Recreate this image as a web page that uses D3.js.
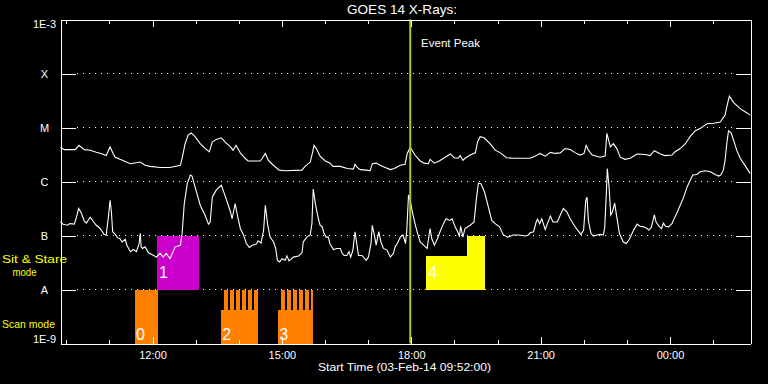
<!DOCTYPE html>
<html><head><meta charset="utf-8">
<script src="https://cdn.jsdelivr.net/npm/d3@7"></script>
<style>html,body{margin:0;padding:0;background:#000;} svg{display:block;}</style>
</head><body>
<svg id="chart" width="768" height="384"></svg>
<script>
// ---------------- data ----------------
const startTime = "2014-02-03T09:52:00Z";
const spanHours = 16;
const classLevels = [1e-9, 1e-8, 1e-7, 1e-6, 1e-5, 1e-4, 1e-3];
const classLabels = ["1E-9", "A", "B", "C", "M", "X", "1E-3"];
const gridLevels = [1e-8, 1e-7, 1e-6, 1e-5, 1e-4];

// long channel (1-8 A), hours since start / log10 flux (W m^-2)
const longTimes = [
 0.00,0.09,0.34,0.43,0.55,0.69,0.83,0.97,1.06,1.15,
 1.22,1.27,1.38,1.62,1.85,1.96,2.08,2.31,2.54,2.78,
 2.82,2.89,2.96,3.03,3.12,3.24,3.36,3.45,3.52,3.61,
 3.73,3.82,3.94,4.00,4.07,4.17,4.28,4.35,4.63,4.68,
 4.75,4.82,4.91,5.07,5.21,5.60,5.67,5.79,5.84,5.88,
 5.93,6.02,6.14,6.25,6.32,6.49,6.65,6.79,6.83,6.88,
 6.95,7.09,7.18,7.23,7.32,7.41,7.53,7.65,7.74,7.88,
 7.99,8.04,8.11,8.22,8.34,8.43,8.53,8.57,8.67,8.80,
 8.92,9.04,9.13,9.22,9.27,9.33,9.38,9.50,9.62,9.67,
 9.73,9.82,9.96,10.08,10.20,10.34,10.50,10.89,11.01,11.12,
 11.24,11.36,11.47,11.59,11.70,11.82,11.94,12.05,12.14,12.19,
 12.24,12.33,12.51,12.63,12.67,12.75,12.82,12.90,12.98,13.09,
 13.21,13.37,13.56,13.67,13.77,13.91,14.02,14.18,14.25,14.37,
 14.49,14.60,14.72,14.83,14.99,15.14,15.30,15.41,15.45,15.51,
 15.61,15.76,15.92,15.99];
const longLogFlux = [
 -5.37,-5.41,-5.41,-5.33,-5.41,-5.42,-5.46,-5.49,-5.52,-5.36,
 -5.48,-5.55,-5.59,-5.67,-5.64,-5.70,-5.72,-5.74,-5.74,-5.70,
 -5.57,-5.30,-5.14,-5.10,-5.17,-5.30,-5.39,-5.45,-5.27,-5.22,
 -5.19,-5.27,-5.36,-5.42,-5.33,-5.47,-5.57,-5.62,-5.62,-5.57,
 -5.48,-5.61,-5.68,-5.79,-5.80,-5.79,-5.72,-5.64,-5.48,-5.33,
 -5.39,-5.53,-5.62,-5.66,-5.72,-5.72,-5.76,-5.77,-5.68,-5.74,
 -5.78,-5.79,-5.80,-5.67,-5.66,-5.70,-5.74,-5.78,-5.76,-5.70,
 -5.68,-5.48,-5.37,-5.51,-5.62,-5.66,-5.67,-5.59,-5.66,-5.61,
 -5.55,-5.49,-5.56,-5.57,-5.52,-5.61,-5.57,-5.51,-5.47,-5.27,
 -5.17,-5.19,-5.30,-5.42,-5.47,-5.56,-5.57,-5.57,-5.53,-5.48,
 -5.53,-5.46,-5.48,-5.47,-5.39,-5.41,-5.47,-5.51,-5.48,-5.33,
 -5.42,-5.51,-5.55,-5.53,-5.11,-5.36,-5.30,-5.39,-5.55,-5.59,
 -5.57,-5.49,-5.50,-5.52,-5.43,-5.49,-5.52,-5.51,-5.45,-5.39,
 -5.30,-5.17,-5.06,-5.02,-4.93,-4.92,-4.90,-4.77,-4.62,-4.42,
 -4.54,-4.65,-4.73,-4.77];

// short channel (0.5-4 A)
const shortTimes = [
 0.00,0.06,0.16,0.22,0.32,0.36,0.42,0.48,0.55,0.60,
 0.69,0.77,0.83,0.92,0.97,1.01,1.06,1.11,1.15,1.18,
 1.21,1.27,1.32,1.38,1.43,1.50,1.54,1.62,1.69,1.76,
 1.82,1.85,1.87,1.90,1.96,2.04,2.16,2.22,2.31,2.38,
 2.45,2.54,2.66,2.78,2.82,2.87,2.94,3.01,3.05,3.12,
 3.24,3.36,3.43,3.47,3.52,3.61,3.73,3.82,3.94,3.98,
 4.05,4.10,4.17,4.24,4.31,4.38,4.45,4.54,4.58,4.65,
 4.71,4.75,4.80,4.86,4.94,4.99,5.03,5.08,5.14,5.21,
 5.25,5.30,5.40,5.52,5.60,5.63,5.71,5.79,5.83,5.86,
 5.91,5.98,6.02,6.07,6.11,6.16,6.21,6.25,6.33,6.41,
 6.49,6.53,6.58,6.64,6.69,6.73,6.78,6.83,6.87,6.91,
 6.99,7.09,7.14,7.20,7.23,7.27,7.32,7.38,7.43,7.49,
 7.57,7.65,7.72,7.76,7.81,7.88,7.94,7.97,8.00,8.03,
 8.07,8.11,8.15,8.22,8.28,8.34,8.42,8.50,8.57,8.61,
 8.67,8.74,8.80,8.88,8.94,9.02,9.08,9.15,9.21,9.25,
 9.28,9.33,9.38,9.50,9.59,9.64,9.69,9.75,9.83,9.92,
 10.00,10.08,10.18,10.27,10.37,10.50,10.62,10.78,10.85,10.89,
 10.97,11.03,11.06,11.11,11.16,11.24,11.29,11.36,11.42,11.52,
 11.59,11.66,11.74,11.82,11.91,11.99,12.07,12.13,12.18,12.21,
 12.24,12.30,12.36,12.44,12.51,12.59,12.62,12.65,12.68,12.72,
 12.76,12.80,12.85,12.90,12.96,13.05,13.12,13.19,13.29,13.37,
 13.44,13.52,13.60,13.64,13.70,13.74,13.77,13.81,13.89,13.94,
 13.98,14.03,14.10,14.18,14.21,14.29,14.37,14.45,14.53,14.60,
 14.66,14.76,14.83,14.95,15.07,15.18,15.26,15.31,15.37,15.41,
 15.45,15.49,15.55,15.61,15.68,15.76,15.88,15.99];
const shortLogFlux = [
 -6.75,-6.79,-6.81,-6.78,-6.79,-6.69,-6.50,-6.58,-6.73,-6.77,
 -6.66,-6.75,-6.81,-6.87,-6.93,-6.98,-6.99,-6.66,-6.35,-6.56,
 -6.93,-6.98,-7.04,-7.06,-7.12,-7.07,-7.18,-7.30,-7.26,-7.30,
 -7.16,-6.96,-7.21,-7.24,-7.21,-7.32,-7.37,-7.40,-7.33,-7.40,
 -7.33,-7.43,-7.21,-7.18,-6.96,-6.41,-6.04,-5.88,-5.90,-6.10,
 -6.44,-6.64,-6.79,-6.75,-6.29,-6.16,-6.07,-6.27,-6.56,-6.69,
 -6.41,-6.62,-6.87,-6.98,-7.15,-7.22,-7.18,-7.16,-7.10,-7.14,
 -6.90,-6.44,-6.78,-7.03,-7.12,-7.24,-7.46,-7.49,-7.43,-7.46,
 -7.38,-7.47,-7.40,-7.38,-7.32,-7.12,-7.03,-6.99,-6.78,-6.14,
 -6.41,-6.69,-6.81,-6.84,-6.96,-7.03,-7.03,-7.16,-7.26,-7.24,
 -7.24,-7.33,-7.37,-7.37,-7.30,-7.40,-7.27,-6.93,-7.15,-7.37,
 -7.37,-7.46,-7.40,-7.15,-6.81,-6.96,-7.18,-6.93,-7.12,-7.24,
 -7.27,-7.40,-7.33,-7.21,-7.15,-7.03,-6.99,-7.06,-7.15,-6.90,
 -6.25,-6.35,-6.53,-6.78,-6.96,-7.12,-7.18,-7.24,-6.87,-7.06,
 -7.18,-7.06,-6.93,-6.78,-6.69,-6.72,-6.69,-6.84,-6.93,-7.01,
 -6.83,-7.03,-6.87,-6.81,-6.75,-6.35,-6.03,-6.04,-6.19,-6.47,
 -6.72,-6.78,-6.84,-6.99,-7.03,-6.99,-6.99,-7.01,-6.99,-6.95,
 -6.93,-6.75,-6.70,-6.78,-6.69,-6.89,-6.78,-6.64,-6.75,-6.75,
 -6.62,-6.50,-6.56,-6.69,-6.81,-6.90,-6.98,-6.90,-6.35,-6.29,
 -6.72,-6.96,-7.01,-6.99,-6.98,-6.99,-6.84,-6.35,-5.76,-6.10,
 -6.62,-6.56,-6.40,-6.66,-6.96,-7.12,-7.15,-7.07,-6.90,-6.79,
 -6.83,-6.84,-6.87,-6.90,-6.85,-6.72,-6.62,-6.75,-6.84,-6.87,
 -6.77,-6.83,-6.84,-6.78,-6.72,-6.59,-6.44,-6.29,-6.10,-5.98,
 -5.88,-5.87,-5.82,-5.80,-5.82,-5.87,-5.90,-5.88,-5.79,-5.61,
 -5.30,-5.06,-5.10,-5.24,-5.42,-5.57,-5.71,-5.85];

// IRIS observing blocks (hours since start)
const scanIds    = ["0", "2", "3"];
const scanStarts = [1.73, 3.73, 5.05];
const scanEnds   = [2.27, 4.58, 5.86];
const scanTops   = [1e-8, 4.2e-9, 4.2e-9];
const rasterStarts = [3.80, 3.93, 4.07, 4.21, 4.35, 4.49, 5.12, 5.26, 5.40, 5.54, 5.68, 5.82];
const rasterEnds   = [3.885, 4.015, 4.155, 4.295, 4.435, 4.58, 5.205, 5.345, 5.485, 5.625, 5.765, 5.86];
const rasterTop = 1e-8;

const sitIds    = ["1", "4", "4"];
const sitStarts = [2.24, 8.48, 9.43];
const sitEnds   = [3.22, 9.85, 9.85];
const sitBottoms = [1e-8, 1e-8, 1e-8];
const sitTops   = [1e-7, 4.2e-8, 1e-7];

const eventPeakHours = 8.11;

// ---------------- drawing ----------------
const t0 = new Date(startTime);
const toDate = h => new Date(t0.getTime() + h * 3600e3);

const svg = d3.select("#chart");
svg.append("rect").attr("width", 768).attr("height", 384).attr("fill", "#000");

const x = d3.scaleUtc().domain([t0, toDate(spanHours)]).range([60.5, 750.5]);
const y = d3.scaleLog().domain([1e-9, 1e-3]).range([343.5, 19.5]);

const FONT = "'Liberation Sans', Arial, sans-serif";
const colors = { scan: "#ff8000", "1": "#cc00cc", "4": "#ffff00" };

// dotted grid
svg.append("g").selectAll("line").data(gridLevels).join("line")
  .attr("x1", 76.5).attr("x2", 735)
  .attr("y1", d => Math.round(y(d) - 0.5) + 0.5).attr("y2", d => Math.round(y(d) - 0.5) + 0.5)
  .attr("stroke", "#fff").attr("stroke-width", 1).attr("stroke-dasharray", "1,5")
  .attr("shape-rendering", "crispEdges");

// scan blocks
const blocks = svg.append("g").attr("shape-rendering", "crispEdges");
scanIds.forEach((id, i) => {
  blocks.append("rect")
    .attr("x", x(toDate(scanStarts[i]))).attr("width", x(toDate(scanEnds[i])) - x(toDate(scanStarts[i])))
    .attr("y", y(scanTops[i])).attr("height", y(1e-9) - y(scanTops[i]))
    .attr("fill", colors.scan);
});
rasterStarts.forEach((s, i) => {
  blocks.append("rect")
    .attr("x", x(toDate(s))).attr("width", x(toDate(rasterEnds[i])) - x(toDate(s)))
    .attr("y", y(rasterTop)).attr("height", y(4.2e-9) - y(rasterTop) + 1)
    .attr("fill", colors.scan);
});
sitIds.forEach((id, i) => {
  blocks.append("rect")
    .attr("x", x(toDate(sitStarts[i]))).attr("width", x(toDate(sitEnds[i])) - x(toDate(sitStarts[i])))
    .attr("y", y(sitTops[i])).attr("height", y(sitBottoms[i]) - y(sitTops[i]))
    .attr("fill", colors[id]);
});

// block labels
const labels = svg.append("g").attr("font-family", FONT).attr("font-size", 16).attr("fill", "#fff");
scanIds.forEach((id, i) => {
  labels.append("text").attr("x", x(toDate(scanStarts[i])) + 1).attr("y", y(1e-9) - 4).text(id);
});
const seen = new Set();
sitIds.forEach((id, i) => {
  if (seen.has(id)) return; seen.add(id);
  labels.append("text").attr("x", x(toDate(sitStarts[i])) + 2).attr("y", y(1e-8) - 12).text(id);
});

// curves
const line = d3.line().x(d => x(toDate(d[0]))).y(d => y(Math.pow(10, d[1])));
svg.append("path").datum(d3.zip(longTimes, longLogFlux)).attr("d", line)
  .attr("fill", "none").attr("stroke", "#fff").attr("stroke-width", 1.1);
svg.append("path").datum(d3.zip(shortTimes, shortLogFlux)).attr("d", line)
  .attr("fill", "none").attr("stroke", "#fff").attr("stroke-width", 1.1);

// event peak
const xp = x(toDate(eventPeakHours));
svg.append("line").attr("x1", xp).attr("x2", xp).attr("y1", 19.5).attr("y2", 343.5)
  .attr("stroke", "#a4d012").attr("stroke-width", 2);
svg.append("text").attr("x", 421).attr("y", 47).attr("fill", "#fff")
  .attr("font-family", FONT).attr("font-size", 11).attr("textLength", 59)
  .attr("lengthAdjust", "spacingAndGlyphs").text("Event Peak");

// axes
function styleAxis(g) {
  g.selectAll("path,line").attr("stroke", "#fff").attr("shape-rendering", "crispEdges");
  g.selectAll("text").attr("fill", "#fff").attr("font-family", FONT).attr("font-size", 11);
}
const major = d3.utcHour.every(3), minor = d3.utcHour.every(1);

svg.append("g").attr("transform", "translate(0,343.5)")
  .call(d3.axisBottom(x).ticks(minor).tickSize(-4).tickSizeOuter(0).tickFormat(""))
  .call(styleAxis);
svg.append("g").attr("transform", "translate(0,343.5)")
  .call(d3.axisBottom(x).ticks(major).tickSize(-7).tickSizeOuter(0).tickPadding(8)
    .tickFormat(d3.utcFormat("%H:%M")))
  .call(styleAxis);
svg.append("g").attr("transform", "translate(0,19.5)")
  .call(d3.axisTop(x).ticks(minor).tickSize(-4).tickSizeOuter(0).tickFormat(""))
  .call(styleAxis);
svg.append("g").attr("transform", "translate(0,19.5)")
  .call(d3.axisTop(x).ticks(major).tickSize(-7).tickSizeOuter(0).tickFormat(""))
  .call(styleAxis);

const yAxis = svg.append("g").attr("transform", "translate(60.5,0)")
  .call(d3.axisLeft(y).tickValues(classLevels).tickSize(-15).tickSizeOuter(0).tickPadding(16)
    .tickFormat((d, i) => classLabels[i]))
  .call(styleAxis);
yAxis.selectAll("text").attr("text-anchor", "middle")
  .attr("dy", (d, i) => i === 0 ? "-0.05em" : (i === classLevels.length - 1 ? "0.7em" : "0.38em"));
svg.append("g").attr("transform", "translate(750.5,0)")
  .call(d3.axisRight(y).tickValues(classLevels).tickSize(-15).tickSizeOuter(0).tickFormat(""))
  .call(styleAxis);

// titles
svg.append("text").attr("x", 402).attr("y", 14).attr("text-anchor", "middle").attr("fill", "#fff")
  .attr("font-family", FONT).attr("font-size", 13).attr("textLength", 110)
  .attr("lengthAdjust", "spacingAndGlyphs").text("GOES 14 X-Rays:");
svg.append("text").attr("x", 404.5).attr("y", 370.5).attr("text-anchor", "middle").attr("fill", "#fff")
  .attr("font-family", FONT).attr("font-size", 11).attr("textLength", 173)
  .attr("lengthAdjust", "spacingAndGlyphs").text("Start Time (03-Feb-14 09:52:00)");

// mode labels
const modeG = svg.append("g").attr("fill", "#ffff00").attr("font-family", FONT).attr("font-size", 11);
modeG.append("text").attr("x", 2).attr("y", 263).attr("textLength", 65)
  .attr("lengthAdjust", "spacingAndGlyphs").text("Sit & Stare");
modeG.append("text").attr("x", 12.5).attr("y", 275.5).attr("textLength", 24)
  .attr("lengthAdjust", "spacingAndGlyphs").text("mode");
modeG.append("text").attr("x", 2).attr("y", 328).attr("textLength", 53)
  .attr("lengthAdjust", "spacingAndGlyphs").text("Scan mode");
</script>
</body></html>
